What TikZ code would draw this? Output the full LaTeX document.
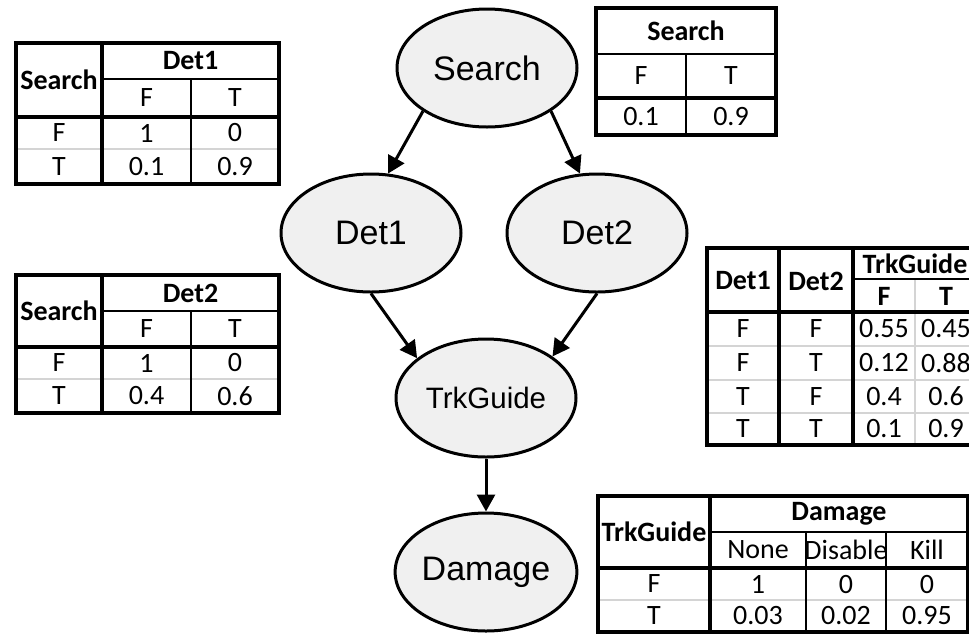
\documentclass[tikz,border=0pt]{standalone}
\usepackage{fontspec}
\setmainfont{Liberation Sans}
\newfontfamily\tabfont{Carlito}
\usetikzlibrary{shapes.geometric,arrows.meta}
\definecolor{nodefill}{HTML}{F0F0F0}
\definecolor{gridgray}{HTML}{D4D4D4}
\tikzset{
  bnode/.style={ellipse, draw=black, line width=3pt, fill=nodefill, minimum width=180pt, minimum height=118pt, inner sep=0pt, font=\fontsize{34}{40}\selectfont},
  arr/.style={line width=3pt, -{Triangle[length=17pt,width=18pt]}},
  tb/.style={inner sep=0pt, anchor=center, font=\tabfont\fontsize{28}{32}\selectfont},
  tbb/.style={inner sep=0pt, anchor=center, font=\tabfont\bfseries\fontsize{28}{32}\selectfont},
  gline/.style={draw=gridgray, line width=2.5pt},
  tline/.style={draw=black, line width=2pt},
  kline/.style={draw=black, line width=3.5pt},
  oline/.style={draw=black, line width=4pt},
}
\begin{document}
\begin{tikzpicture}[x=1pt,y=-1pt]
\clip (0,0) rectangle (969,633);
\fill[white] (0,0) rectangle (969,633);

% ---------- Bayesian network ----------
\node[bnode] (search) at (487,68) {Search};
\node[bnode] (det1) at (371,233) {Det1};
\node[bnode] (det2) at (597,233) {Det2};
\node[bnode, font=\fontsize{29.5}{35}\selectfont] (trk) at (486,398) {TrkGuide};
\node[bnode] (dmg) at (486,572) {Damage};

\draw[arr] (search.214) -- (det1.74);
\draw[arr] (search.326) -- (det2.106);
\draw[arr] (det1.south) -- (trk.150);
\draw[arr] (det2.south) -- (trk.32);
\draw[arr] (trk.south) -- (dmg.north);

% ---------- Det1 table ----------
\draw[gline] (16,149) -- (279,149);
\draw[tline] (102,79) -- (279,79);
\draw[tline] (191,79) -- (191,184);
\draw[kline] (102,43) -- (102,184);
\draw[kline] (16,117) -- (279,117);
\draw[oline] (16,43) rectangle (279,184);
\node[tbb] (a1) at (59,80) {Search};
\node[tbb] (a2) at (190.5,61) {Det1};
\node[tb] (a3) at (146.5,98) {F};
\node[tb] (a4) at (235,98) {T};
\node[tb] (a5) at (59,133) {F};
\node[tb] (a6) at (146.5,133) {1};
\node[tb] (a7) at (235,133) {0};
\node[tb] (a8) at (59,166.5) {T};
\node[tb] (a9) at (146.5,166.5) {0.1};
\node[tb] (a10) at (235,166.5) {0.9};

% ---------- Det2 table ----------
\draw[gline] (16,379) -- (279,379);
\draw[tline] (102,311) -- (279,311);
\draw[tline] (191,311) -- (191,413);
\draw[kline] (102,275) -- (102,413);
\draw[kline] (16,347) -- (279,347);
\draw[oline] (16,275) rectangle (279,413);
\node[tbb] (b1) at (59,311) {Search};
\node[tbb] (b2) at (190.5,293) {Det2};
\node[tb] (b3) at (146.5,329) {F};
\node[tb] (b4) at (235,329) {T};
\node[tb] (b5) at (59,363) {F};
\node[tb] (b6) at (146.5,363) {1};
\node[tb] (b7) at (235,363) {0};
\node[tb] (b8) at (59,396) {T};
\node[tb] (b9) at (146.5,396) {0.4};
\node[tb] (b10) at (235,396) {0.6};

% ---------- Search table ----------
\draw[tline] (596,54) -- (776,54);
\draw[tline] (686,54) -- (686,135);
\draw[kline] (596,98) -- (776,98);
\draw[oline] (596,8) rectangle (776,135);
\node[tbb] (c1) at (686,31) {Search};
\node[tb] (c2) at (641,76) {F};
\node[tb] (c3) at (731,76) {T};
\node[tb] (c4) at (641,116.5) {0.1};
\node[tb] (c5) at (731,116.5) {0.9};

% ---------- TrkGuide table ----------
\draw[gline] (707,346) -- (977,346);
\draw[gline] (707,380) -- (977,380);
\draw[gline] (707,413) -- (977,413);
\draw[gline] (915,279) -- (915,445);
\draw[tline] (853,279) -- (977,279);
\draw[kline] (779,248) -- (779,445);
\draw[oline] (853,248) -- (853,445);
\draw[oline] (707,312) -- (977,312);
\draw[oline] (707,248) rectangle (977,445);
\node[tbb] (d1) at (743,281) {Det1};
\node[tbb] (d2) at (816,281) {Det2};
\node[tbb] (d3) at (915,263.5) {TrkGuide};
\node[tbb] (d4) at (884,296) {F};
\node[tbb] (d5) at (946,296) {T};
\node[tb] (d6) at (743,329) {F};
\node[tb] (d7) at (816,329) {F};
\node[tb] (d8) at (884,329) {0.55};
\node[tb] (d9) at (946,329) {0.45};
\node[tb] (d10) at (743,363) {F};
\node[tb] (d11) at (816,363) {T};
\node[tb] (d12) at (884,363) {0.12};
\node[tb] (d13) at (946,363) {0.88};
\node[tb] (d14) at (743,396.5) {T};
\node[tb] (d15) at (816,396.5) {F};
\node[tb] (d16) at (884,396.5) {0.4};
\node[tb] (d17) at (946,396.5) {0.6};
\node[tb] (d18) at (743,429) {T};
\node[tb] (d19) at (816,429) {T};
\node[tb] (d20) at (884,429) {0.1};
\node[tb] (d21) at (946,429) {0.9};

% ---------- Damage table ----------
\draw[gline] (598,600) -- (968,600);
\draw[tline] (710,532) -- (968,532);
\draw[tline] (806,532) -- (806,632);
\draw[tline] (886,532) -- (886,632);
\draw[kline] (710,496) -- (710,632);
\draw[kline] (598,568) -- (968,568);
\draw[oline] (598,496) rectangle (968,632);
\node[tbb] (e1) at (654,532) {TrkGuide};
\node[tbb] (e2) at (839,514) {Damage};
\node[tb] (e3) at (758,550) {None};
\node[tb] (e4) at (846,550) {Disable};
\node[tb] (e5) at (927,550) {Kill};
\node[tb] (e6) at (654,584) {F};
\node[tb] (e7) at (758,584) {1};
\node[tb] (e8) at (846,584) {0};
\node[tb] (e9) at (927,584) {0};
\node[tb] (e10) at (654,616) {T};
\node[tb] (e11) at (758,616) {0.03};
\node[tb] (e12) at (846,616) {0.02};
\node[tb] (e13) at (927,616) {0.95};
\end{tikzpicture}
\end{document}
